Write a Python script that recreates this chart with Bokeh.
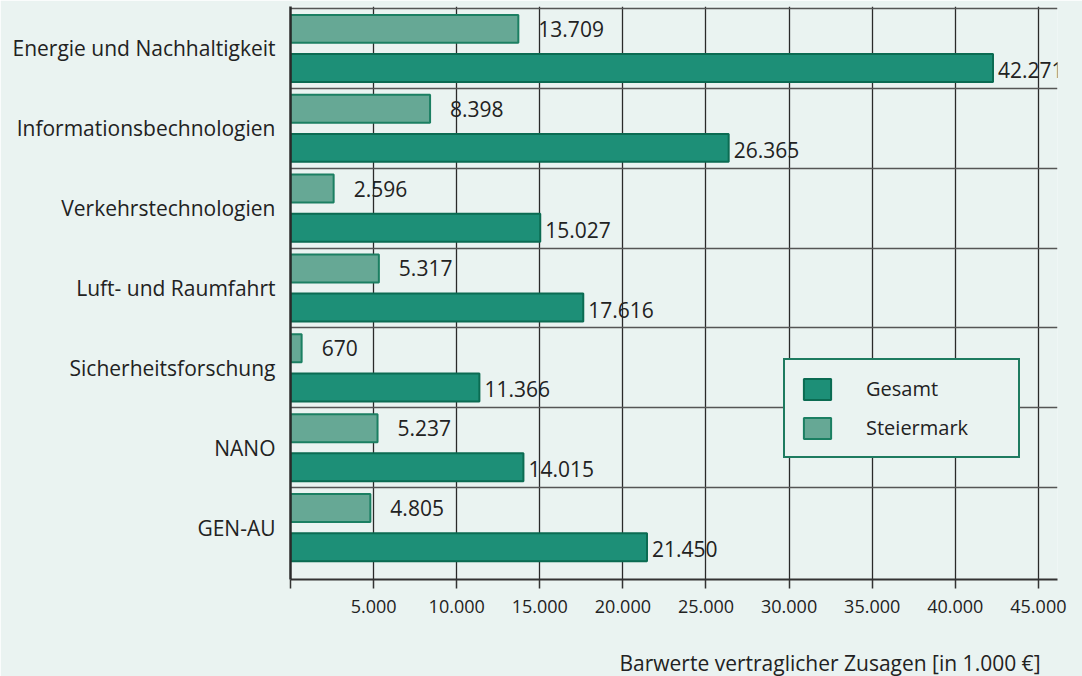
from bokeh.plotting import figure
from bokeh.models import (ColumnDataSource, FixedTicker, Range1d, Legend, LegendItem, Title)
from bokeh.core.properties import value
from bokeh.embed import file_html
from bokeh.resources import INLINE

categories = ["Energie und Nachhaltigkeit", "Informationsbechnologien", "Verkehrstechnologien",
              "Luft- und Raumfahrt", "Sicherheitsforschung", "NANO", "GEN-AU"]
gesamt = [42271, 26365, 15027, 17616, 11366, 14015, 21450]
steiermark = [13709, 8398, 2596, 5317, 670, 5237, 4805]
x_ticks = [0, 5000, 10000, 15000, 20000, 25000, 30000, 35000, 40000, 45000]
x_tick_labels = ["", "5.000", "10.000", "15.000", "20.000", "25.000", "30.000", "35.000", "40.000", "45.000"]
x_title = "Barwerte vertraglicher Zusagen [in 1.000 €]"

BG = "#EAF3F1"
C_GES = "#1D8F77"
C_GES_L = "#0B6B52"
C_STM = "#66A895"
C_STM_L = "#1B7F62"
FONT = "Open Sans"
TXT = "#222222"

def fmt(v):
    return f"{v:,}".replace(",", ".")

n = len(categories)
centers = [n - 0.5 - i for i in range(n)]
off = 0.245
bh = 0.35

src_g = ColumnDataSource(dict(y=[c - off for c in centers], v=gesamt, lab=[fmt(v) for v in gesamt]))
src_s = ColumnDataSource(dict(y=[c + off for c in centers], v=steiermark, lab=[fmt(v) for v in steiermark]))

p = figure(width=1082, height=676, output_backend="svg", toolbar_location=None,
           x_range=Range1d(0, 46150), y_range=Range1d(-0.15, n + 0.025),
           min_border_left=290, min_border_right=25, min_border_top=6, min_border_bottom=97)
p.background_fill_color = BG
p.border_fill_color = BG
p.outline_line_color = None

rg = p.hbar(y="y", left=0, right="v", height=bh, source=src_g, fill_color=C_GES,
            line_color=C_GES_L, line_width=2)
rs = p.hbar(y="y", left=0, right="v", height=bh, source=src_s, fill_color=C_STM,
            line_color=C_STM_L, line_width=2)

p.text(x="v", y="y", text="lab", source=src_g, x_offset=5, y_offset=2, text_baseline="middle",
       text_font=value(FONT), text_font_size="21px", text_color=TXT)
p.text(x="v", y="y", text="lab", source=src_s, x_offset=20, text_baseline="middle",
       text_font=value(FONT), text_font_size="21px", text_color=TXT)

# x axis
p.xaxis.ticker = FixedTicker(ticks=x_ticks)
p.xaxis.major_label_overrides = {t: l for t, l in zip(x_ticks, x_tick_labels)}
p.xaxis.major_label_text_font = FONT
p.xaxis.major_label_text_font_size = "18px"
p.xaxis.major_label_text_color = TXT
p.xaxis.major_tick_in = 0
p.xaxis.major_tick_out = 9
p.xaxis.minor_tick_line_color = None
p.xaxis.major_label_standoff = 11
p.xaxis.axis_line_color = "#333333"
p.xaxis.axis_line_width = 2
p.xaxis.major_tick_line_color = "#333333"
p.xaxis.major_tick_line_width = 1.5
# blank axis label used only as spacing between tick labels and the axis title
p.xaxis.axis_label = " "
p.xaxis.axis_label_text_font_size = "10px"
p.xaxis.axis_label_standoff = 17

# y axis
p.yaxis.ticker = FixedTicker(ticks=centers)
p.yaxis.major_label_overrides = {c: cat for c, cat in zip(centers, categories)}
p.yaxis.major_label_text_font = FONT
p.yaxis.major_label_text_font_size = "21px"
p.yaxis.major_label_text_color = TXT
p.yaxis.major_tick_line_color = None
p.yaxis.minor_tick_line_color = None
p.yaxis.major_label_standoff = 9
p.yaxis.axis_line_color = "#2a2a2a"
p.yaxis.axis_line_width = 2.5

# grids
p.xgrid.ticker = FixedTicker(ticks=x_ticks)
p.xgrid.grid_line_color = "#2a2a2a"
p.xgrid.grid_line_width = 1.3
p.ygrid.ticker = FixedTicker(ticks=list(range(1, n + 1)))
p.ygrid.grid_line_color = "#555555"
p.ygrid.grid_line_width = 1.6

legend = Legend(items=[LegendItem(label="Gesamt", renderers=[rg]),
                       LegendItem(label="Steiermark", renderers=[rs])],
                location=(493, 121))
legend.glyph_width = 34
legend.glyph_height = 26
legend.label_height = 26
legend.label_width = 137
legend.label_standoff = 32
legend.padding = 15
legend.margin = 0
legend.spacing = 12
legend.label_text_font = FONT
legend.label_text_font_size = "20px"
legend.label_text_color = TXT
legend.border_line_color = "#1E7B60"
legend.border_line_alpha = 1
legend.border_line_width = 2.5
legend.background_fill_color = BG
legend.background_fill_alpha = 1
p.add_layout(legend)

t = Title(text=x_title, align="right", text_font=FONT, text_font_size="21px",
          text_font_style="normal", text_color=TXT, standoff=0, offset=17)
p.add_layout(t, "below")

html = file_html(p, INLINE)
html = html.replace("<body>", '<body style="background:%s">' % BG, 1)
open("out.html", "w").write(html)
